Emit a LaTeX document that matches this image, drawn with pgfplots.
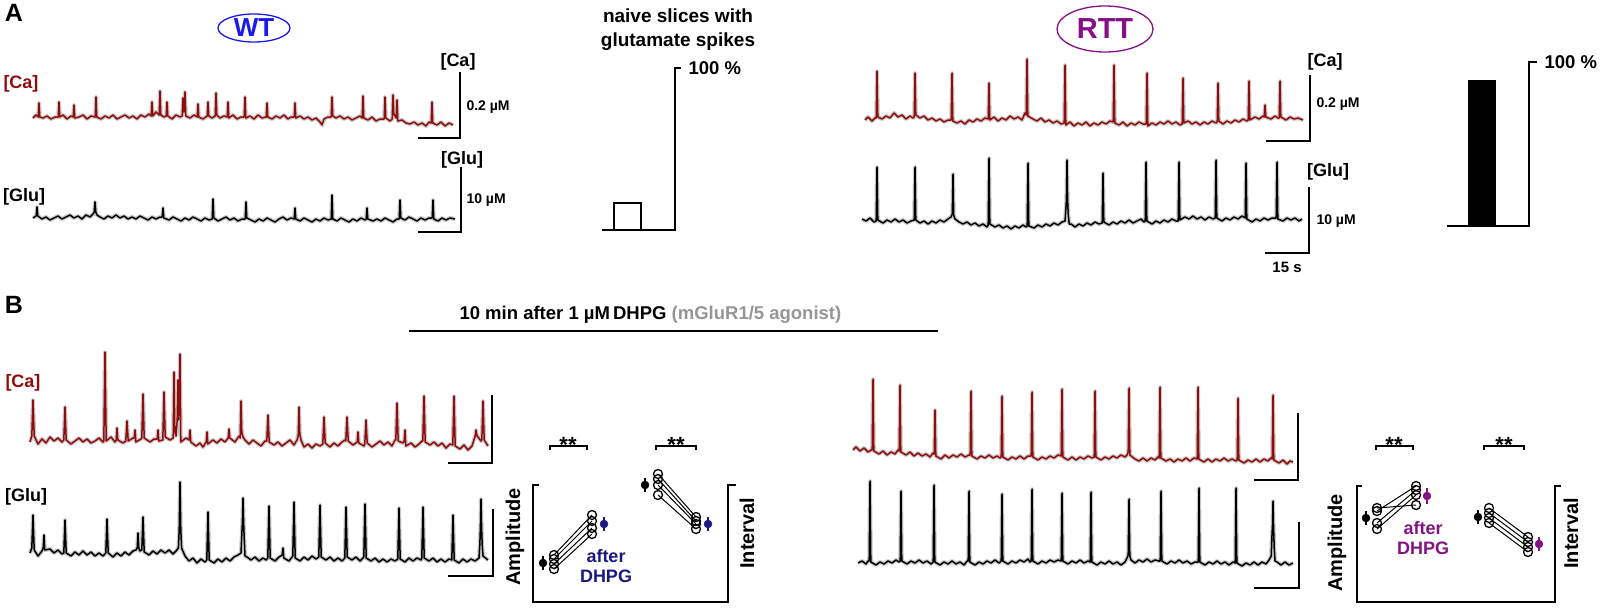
\documentclass[border=0pt]{standalone}
\usepackage{pgfplots}
\pgfplotsset{compat=1.18}
\usepackage{fontspec}
\setmainfont{Liberation Sans}
\usetikzlibrary{shapes.geometric}

\definecolor{carmine}{RGB}{145,12,12}
\definecolor{wtblue}{RGB}{25,25,235}
\definecolor{rttpurple}{RGB}{135,15,135}
\definecolor{navy}{RGB}{25,25,130}
\definecolor{dhpgpurple}{RGB}{130,20,130}
\definecolor{agonist}{RGB}{150,150,150}
\definecolor{shadow}{RGB}{200,200,200}

\newcommand{\fs}[1]{\fontsize{#1}{#1}\selectfont\bfseries}

\pgfplotsset{
  catrace/.style={draw=carmine, line width=1.5pt, line join=round,
    preaction={draw=shadow, line width=4pt, line join=round}},
  glutrace/.style={draw=black, line width=1.5pt, line join=round,
    preaction={draw=shadow, line width=4pt, line join=round}},
  scalebar/.style={draw=black, line width=2.5pt},
  pair/.style={draw=black, line width=1pt},
  opendots/.style={only marks, mark=o, mark size=4.5pt, black, mark options={fill=white, line width=1.3pt}},
}

\begin{document}
\begin{tikzpicture}
\useasboundingbox (0,0) rectangle (1600pt,608pt);
\begin{axis}[at={(0,0)}, anchor=south west,
    width=1600pt, height=608pt, scale only axis,
    xmin=0, xmax=1600, ymin=0, ymax=608, y dir=reverse,
    hide axis, clip=false]

% ---------------- panel A, WT ----------------
\node[font=\fs{25}] at (14,13) {A};
\node[ellipse, draw=wtblue, line width=1.3pt, minimum width=72pt, minimum height=28pt,
      inner sep=0pt, text=wtblue, font=\fs{26}] at (254,28) {WT};
\node[font=\fs{18}, text=carmine] at (21,84) {[Ca]};
\node[font=\fs{18}] at (24,197) {[Glu]};

% [Ca] WT
\addplot[catrace] coordinates {
(33,118)(36,115)(38.2,117)(39,103)(39.8,117)(43,118)(47,116)(51,119)(55,117)(58.2,117)(59,102)(59.8,117)(63,115)(67,119)(71,116)(73.2,117)(74,105)(74.8,118)(79,117)(83,115)(87,119)(91,116)(95.2,117)(96,97)(96.8,117)(101,119)(105,116)(109,118)(113,115)(117,119)(121,117)(125,115)(129,118)(133,116)(137,119)(141,115)(145,117)(149,114)(151.2,116)(152,102)(152.8,116)(156,112)(159.2,115)(160,91)(160.8,115)(164,117)(166.2,116)(167,102)(167.8,116)(172,119)(176,115)(180,117)(182.2,116)(183,98)(183.8,112)(184.4,110)(185,92)(185.8,116)(190,118)(194,115)(197.2,117)(198,104)(198.8,117)(203,119)(207.2,116)(208,102)(208.8,116)(212,118)(215.2,116)(216,93)(216.8,115)(220,118)(224,116)(227.2,117)(228,102)(228.8,118)(233,115)(237,119)(241,117)(244.2,117)(245,97)(245.8,118)(250,116)(254,119)(258,115)(262,118)(266.2,117)(267,103)(267.8,117)(272,119)(276,116)(280,118)(284,115)(288,119)(291,117)(294.2,117)(295,103)(295.8,118)(300,116)(304,119)(308,117)(312,120)(316,118)(320,122)(322,125)(324,119)(328,117)(331.2,117)(332,97)(332.8,116)(336,118)(340,116)(344,119)(348,117)(352,120)(356,118)(360,116)(362.2,118)(363,96)(363.8,118)(368,120)(372,117)(376,121)(380,119)(384.2,119)(385,97)(385.8,118)(390,121)(392.2,119)(393,95)(393.8,114)(396.2,118)(397,100)(397.8,121)(402,120)(406,123)(410,124)(414,122)(418,125)(422,123)(426,126)(429,122)(431.2,123)(432,102)(432.8,123)(437,125)(441,122)(445,126)(449,123)(453,125)
};
% [Glu] WT
\addplot[glutrace] coordinates {
(33,218)(36,216)(36.2,216)(37,207)(37.8,216)(42,219)(46,217)(50,220)(54,218)(58,216)(62,219)(66,217)(70,215)(74,218)(78,216)(82,219)(86,215)(90,217)(93,214)(94.2,212)(95,202)(95.8,212)(97,215)(100,217)(104,219)(108,216)(112,218)(116,215)(120,218)(124,216)(128,219)(132,217)(136,219)(140,216)(144,218)(148,220)(152,217)(156,219)(160,217)(162.2,217)(163,208)(163.8,218)(169,220)(173,217)(177,219)(181,221)(185,218)(189,220)(193,217)(197,219)(201,221)(205,218)(209,220)(212.2,219)(213,199)(213.8,218)(218,221)(222,219)(226,217)(230,220)(234,218)(238,221)(242,219)(245.2,219)(246,202)(246.8,218)(251,220)(255,222)(259,219)(263,221)(267,218)(271,220)(275,222)(279,219)(283,217)(287,220)(291,218)(294.2,219)(295,208)(295.8,219)(300,221)(304,218)(308,220)(312,222)(316,219)(320,221)(324,218)(328,220)(331.2,219)(332,195)(332.8,219)(337,221)(341,218)(345,220)(349,222)(353,219)(357,221)(361,218)(365,220)(366.2,219)(367,208)(367.8,219)(373,221)(377,219)(381,221)(385,218)(389,220)(393,222)(397,219)(399.2,219)(400,200)(400.8,218)(405,220)(409,217)(413,219)(417,221)(421,218)(425,220)(429,218)(432.2,218)(433,200)(433.8,219)(438,221)(442,218)(446,220)(450,218)(455,219)
};
\addplot[scalebar] coordinates {(418,138)(460,138)(460,72)};
\addplot[scalebar] coordinates {(418,232)(461,232)(461,167)};
\node[font=\fs{18}] at (458,62) {[Ca]};
\node[font=\fs{14}, anchor=west] at (463,107) {0.2 µM};
\node[font=\fs{18}] at (462,160) {[Glu]};
\node[font=\fs{14}, anchor=west] at (463,200) {10 µM};

% bar WT
\node[align=center, font=\fontsize{19}{24}\selectfont\bfseries] at (678,30) {naive slices with\\glutamate spikes};
\addplot[fill=white, draw=black, line width=2pt] coordinates {(614,230)(614,203)(641,203)(641,230)(614,230)};
\addplot[scalebar] coordinates {(602,230)(675,230)(675,68)(681,68)};
\node[font=\fs{18.5}, anchor=west] at (685,68) {100 \%};

% ---------------- panel A, RTT ----------------
\node[ellipse, draw=rttpurple, line width=1.3pt, minimum width=96pt, minimum height=46pt,
      inner sep=0pt, text=rttpurple, font=\fs{29}] at (1105,29) {RTT};

% [Ca] RTT
\addplot[catrace] coordinates {
(865,120)(868,117)(872,121)(875,118)(876.2,118)(877,71)(877.8,117)(882,119)(886,116)(890,118)(894,113)(898,117)(902,115)(906,119)(910,116)(913,118)(914.2,117)(915,73)(915.8,115)(920,118)(924,116)(928,120)(932,118)(936,121)(940,119)(944,122)(948,120)(951.2,120)(952,73)(952.8,121)(957,123)(961,121)(965,124)(969,120)(973,122)(977,119)(981,121)(985,118)(988.2,119)(989,83)(989.8,120)(994,117)(998,121)(1002,118)(1006,120)(1010,116)(1014,119)(1018,117)(1022,120)(1025,113)(1026.2,115)(1027,59)(1027.8,116)(1033,119)(1037,121)(1041,118)(1045,122)(1049,120)(1053,123)(1057,121)(1061,124)(1064.2,123)(1065,65)(1065.8,125)(1070,122)(1074,126)(1078,123)(1082,125)(1086,122)(1090,126)(1094,123)(1098,125)(1102,122)(1106,124)(1110,121)(1113.2,122)(1114,65)(1114.8,123)(1119,125)(1123,122)(1127,126)(1131,123)(1135,125)(1139,122)(1143,124)(1146.2,124)(1147,73)(1147.8,126)(1152,123)(1156,125)(1160,122)(1164,124)(1168,121)(1172,124)(1176,122)(1180,125)(1182.2,124)(1183,78)(1183.8,123)(1188,121)(1192,124)(1196,122)(1200,125)(1204,122)(1208,124)(1212,121)(1216,123)(1217.2,122)(1218,83)(1218.8,121)(1223,124)(1227,121)(1231,123)(1235,120)(1239,122)(1243,119)(1247,121)(1248.2,120)(1249,81)(1249.8,120)(1255,117)(1259,119)(1263,116)(1264.2,117)(1265,105)(1265.8,117)(1271,119)(1275,116)(1278,118)(1279.2,118)(1280,81)(1280.8,117)(1286,120)(1290,117)(1294,119)(1298,118)(1303,120)
};
% [Glu] RTT
\addplot[glutrace] coordinates {
(862,219)(866,221)(870,218)(874,222)(876.2,221)(877,167)(877.8,220)(883,223)(887,220)(891,222)(895,219)(899,222)(903,220)(907,223)(911,221)(914.2,220)(915,167)(915.8,220)(920,223)(924,221)(928,224)(932,221)(936,223)(940,220)(944,222)(948,219)(951,217)(952.3,214)(953,174)(953.7,215)(955,219)(959,222)(963,224)(967,222)(971,225)(975,223)(979,226)(983,224)(987,227)(988.2,225)(989,158)(989.8,224)(995,227)(999,225)(1003,228)(1007,226)(1011,229)(1015,226)(1019,228)(1023,225)(1026,227)(1027.2,226)(1028,163)(1028.8,226)(1034,228)(1038,225)(1042,227)(1046,224)(1050,226)(1054,223)(1058,225)(1062,222)(1065,221)(1065.8,210)(1066.4,200)(1067,160)(1067.6,200)(1068.2,214)(1069.2,224)(1071,224)(1075,227)(1079,224)(1083,226)(1087,223)(1091,225)(1095,222)(1099,224)(1102.2,223)(1103,173)(1103.8,222)(1109,225)(1113,222)(1117,224)(1121,221)(1125,223)(1129,220)(1133,223)(1137,221)(1141,219)(1144,222)(1145.2,221)(1146,162)(1146.8,221)(1152,224)(1156,221)(1160,223)(1164,220)(1168,222)(1172,219)(1176,221)(1178.2,221)(1179,162)(1179.8,220)(1185,217)(1189,219)(1193,216)(1197,219)(1201,217)(1205,220)(1209,217)(1213,219)(1215.2,218)(1216,160)(1216.8,218)(1222,221)(1226,218)(1230,220)(1234,217)(1238,219)(1242,216)(1245.2,218)(1246,163)(1246.8,219)(1252,222)(1256,219)(1260,221)(1264,218)(1268,220)(1272,218)(1276.2,218)(1277,162)(1277.8,219)(1283,221)(1287,218)(1291,220)(1295,218)(1299,221)(1302,219)
};
\addplot[scalebar] coordinates {(1266,141)(1310,141)(1310,75)};
\addplot[scalebar] coordinates {(1265,253)(1309,253)(1309,187)};
\node[font=\fs{18}] at (1325,62) {[Ca]};
\node[font=\fs{14}, anchor=west] at (1313,104) {0.2 µM};
\node[font=\fs{18}] at (1328,172) {[Glu]};
\node[font=\fs{14}, anchor=west] at (1313,221) {10 µM};
\node[font=\fs{15}] at (1287,267) {15 s};

% bar RTT
\addplot[fill=black, draw=black, line width=1pt] coordinates {(1468,226)(1468,80)(1495,80)(1495,226)(1468,226)};
\addplot[scalebar] coordinates {(1447,226)(1529,226)(1529,62)(1537,62)};
\node[font=\fs{18.5}, anchor=west] at (1541,62) {100 \%};

% ---------------- panel B ----------------
\node[font=\fs{25}] at (14,305) {B};
\node[font=\fs{18.5}, anchor=west] at (456,315) {10 min after 1 µM\,DHPG \textcolor{agonist}{(mGluR1/5 agonist)}};
\addplot[draw=black, line width=1.8pt] coordinates {(409,331)(938,331)};
\node[font=\fs{18}, text=carmine] at (23,383) {[Ca]};
\node[font=\fs{18}] at (26,497) {[Glu]};

% [Ca] WT + DHPG
\addplot[catrace] coordinates {
(30,442)(31.8,436)(33,400)(34.2,436)(38,444)(42,439)(46,443)(50,437)(54,441)(58,438)(62,442)(63.8,440)(65,407)(66.2,440)(71,444)(75,441)(79,438)(83,442)(87,439)(91,443)(95,441)(99,438)(103,442)(103.8,441)(105,352)(106.2,441)(111,437)(115,442)(116.2,440)(117,428)(117.8,440)(123,443)(125.8,441)(127,421)(128.2,441)(133,438)(134.2,438)(135,430)(135.8,442)(141,439)(141.8,438)(143,394)(144.2,438)(150,442)(154,439)(157.2,439)(158,430)(158.8,441)(162.8,440)(164,392)(165.2,437)(170,440)(173.2,438)(174,372)(174.8,430)(176,436)(177.2,420)(178,380)(178.6,420)(179.3,400)(180,354)(180.8,442)(186,438)(189.2,440)(190,430)(190.8,442)(196,446)(200,443)(203,447)(206.2,442)(207,432)(207.8,444)(213,440)(217,443)(221,439)(225,442)(228.2,438)(229,429)(229.8,438)(235,442)(239,436)(240.2,438)(241,401)(241.8,432)(243,437)(245,440)(249,444)(253,440)(257,443)(261,446)(265,441)(266.8,441)(268,415)(269.2,442)(274,445)(278,442)(282,446)(286,443)(290,440)(294,445)(297,440)(298.2,436)(299,407)(299.8,434)(301,440)(304,447)(308,444)(312,448)(316,444)(320,446)(322.8,444)(324,417)(325.2,443)(330,447)(334,443)(338,446)(342,442)(345,440)(345.8,441)(347,417)(348.2,441)(353,445)(357.2,442)(358,432)(358.8,443)(364,446)(364.8,444)(366,420)(367.2,443)(372,447)(376,444)(380,441)(384,445)(388,442)(392,446)(395,440)(395.8,440)(397,403)(398.2,441)(403,443)(404.2,441)(405,430)(405.8,446)(411,443)(415,447)(419,444)(422,441)(422.8,441)(424,396)(425.2,442)(430,445)(434,442)(438,446)(442,443)(446,448)(450,444)(452.8,445)(454,396)(455.2,446)(460,449)(464,445)(468,450)(472,446)(475.2,436)(476,430)(477,436)(478,437)(481,441)(481.8,440)(483,401)(484.2,440)(488,446)
};
% [Glu] WT + DHPG
\addplot[glutrace] coordinates {
(30,553)(31.8,548)(33,515)(34.2,550)(38,556)(42,551)(43.2,548)(44,535)(44.8,550)(50,549)(54,553)(58,550)(62,554)(63.8,553)(65,520)(66.2,553)(71,556)(75,552)(79,555)(83,551)(87,555)(91,552)(95,556)(99,553)(103,556)(105.8,553)(107,519)(108.2,553)(113,557)(117,553)(121,556)(125,552)(129,555)(133,551)(136,550)(137.2,548)(138,533)(138.8,548)(140,551)(141.8,550)(143,517)(144.2,552)(149,555)(153,551)(157,554)(161,550)(165,553)(169,550)(173,554)(176,551)(178.4,548)(179.2,530)(180,482)(180.8,530)(181.6,548)(185,556)(189,561)(193,558)(197,563)(201,559)(205,562)(206.8,560)(208,512)(209.2,560)(214,563)(218,559)(222,562)(226,558)(230,561)(234,557)(238,555)(241,553)(241.8,535)(242.4,522)(243,498)(243.6,522)(244.2,538)(245,556)(247,557)(251,560)(255,557)(259,561)(263,558)(266,560)(267.8,558)(269,506)(270.2,558)(275,561)(279,557)(282.2,555)(283,548)(283.8,558)(289,561)(292,557)(292.8,556)(294,502)(295.2,558)(300,561)(304,557)(308,560)(312,556)(316,559)(318.8,557)(320,505)(321.2,557)(326,560)(330,557)(334,561)(338,558)(342,561)(344.8,558)(346,507)(347.2,557)(352,560)(356,557)(360,561)(363,558)(363.8,557)(365,504)(366.2,558)(371,561)(375,558)(379,562)(383,559)(387,562)(391,559)(395,561)(397.8,559)(399,508)(400.2,559)(405,562)(409,558)(413,561)(417,558)(421,560)(421.8,558)(423,507)(424.2,558)(429,561)(433,558)(437,562)(441,559)(445,562)(449,559)(451.8,560)(453,515)(454.2,560)(459,563)(463,559)(467,562)(471,559)(475,561)(479,558)(479.8,545)(480.4,528)(481,499)(481.6,528)(482.2,545)(483,556)(488,560)
};
\addplot[scalebar] coordinates {(448,463)(492,463)(492,395)};
\addplot[scalebar] coordinates {(448,576)(493,576)(493,509)};

% WT summary
\addplot[draw=black, line width=1.2pt] coordinates {(550,450)(550,446)(587,446)(587,450)};
\addplot[draw=black, line width=1.2pt] coordinates {(656,450)(656,446)(696,446)(696,450)};
\node[font=\fs{22}, anchor=base] at (568,452) {**};
\node[font=\fs{22}, anchor=base] at (676,452) {**};
\addplot[draw=black, line width=2pt] coordinates {(539,485)(533,485)(533,602)(728,602)(728,485)(736,485)};
\node[font=\fs{20}, rotate=90] at (515,537) {Amplitude};
\node[font=\fs{20}, rotate=90] at (747,533) {Interval};
\addplot[pair] coordinates {(554,555)(592,515)};
\addplot[pair] coordinates {(554,559)(592,521)};
\addplot[pair] coordinates {(554,564)(592,528)};
\addplot[pair] coordinates {(554,569)(592,534)};
\addplot[pair] coordinates {(658,474)(696,517)};
\addplot[pair] coordinates {(658,479)(696,521)};
\addplot[pair] coordinates {(658,485)(696,524)};
\addplot[pair] coordinates {(658,495)(696,529)};
\addplot[opendots] coordinates {(554,555)(554,559)(554,564)(554,569)(592,515)(592,521)(592,528)(592,534)};
\addplot[opendots] coordinates {(658,474)(658,479)(658,485)(658,495)(696,517)(696,521)(696,524)(696,529)};
\addplot[draw=black, line width=1.5pt] coordinates {(543,556)(543,570)};
\addplot[draw=black, line width=1.5pt] coordinates {(645,478)(645,492)};
\addplot[only marks, mark=*, mark size=4pt, black] coordinates {(543,563)(645,485)};
\addplot[draw=navy, line width=1.5pt] coordinates {(604,517)(604,531)};
\addplot[draw=navy, line width=1.5pt] coordinates {(708,517)(708,531)};
\addplot[only marks, mark=*, mark size=4pt, navy] coordinates {(604,524)(708,524)};
\node[align=center, font=\fontsize{18}{20}\selectfont\bfseries, text=navy] at (606,566) {after\\DHPG};

% [Ca] RTT + DHPG
\addplot[catrace] coordinates {
(853,450)(856,447)(860,451)(864,448)(868,452)(871,450)(872.2,450)(873,379)(873.8,451)(879,454)(883,451)(887,455)(891,452)(895,454)(898,450)(899.2,451)(900,385)(900.8,452)(906,455)(910,452)(914,456)(918,453)(922,456)(926,454)(930,457)(933,453)(934.2,454)(935,410)(935.8,456)(941,459)(945,455)(949,458)(953,455)(957,457)(961,454)(965,457)(969,455)(970.2,455)(971,391)(971.8,456)(977,459)(981,456)(985,458)(989,455)(993,458)(997,456)(1000,458)(1001.2,457)(1002,396)(1002.8,457)(1008,460)(1012,457)(1016,459)(1020,456)(1024,459)(1028,456)(1031.2,456)(1032,392)(1032.8,457)(1038,460)(1042,457)(1046,459)(1050,456)(1054,458)(1058,455)(1061.2,456)(1062,389)(1062.8,457)(1068,460)(1072,457)(1076,460)(1080,457)(1084,459)(1088,456)(1092,458)(1094.2,457)(1095,391)(1095.8,457)(1101,460)(1105,457)(1109,459)(1113,456)(1117,458)(1121,455)(1125,457)(1127,455)(1128.2,452)(1129,388)(1129.8,455)(1135,459)(1139,461)(1143,458)(1147,461)(1151,458)(1155,460)(1158,457)(1159.2,458)(1160,387)(1160.8,458)(1166,461)(1170,459)(1174,462)(1178,459)(1182,461)(1186,458)(1190,461)(1194,458)(1197.2,459)(1198,387)(1198.8,459)(1204,462)(1208,459)(1212,462)(1216,459)(1220,461)(1224,458)(1228,461)(1232,459)(1236,461)(1237.2,460)(1238,398)(1238.8,460)(1244,463)(1248,460)(1252,462)(1256,459)(1260,462)(1264,459)(1268,461)(1271,458)(1272.2,459)(1273,395)(1273.8,460)(1279,463)(1283,460)(1287,464)(1290,461)(1293,462)
};
% [Glu] RTT + DHPG
\addplot[glutrace] coordinates {
(858,563)(862,561)(866,564)(868,561)(869.2,561)(870,481)(870.8,562)(876,565)(880,562)(884,564)(888,561)(892,563)(896,560)(899,562)(900.2,561)(901,491)(901.8,561)(907,564)(911,561)(915,563)(919,560)(923,563)(927,561)(931,564)(933.2,562)(934,485)(934.8,562)(940,565)(944,562)(948,564)(952,561)(956,564)(960,562)(964,565)(967,561)(968.2,561)(969,491)(969.8,562)(975,565)(979,562)(983,564)(987,561)(991,563)(995,560)(999,563)(1001.2,561)(1002,494)(1002.8,561)(1008,564)(1012,561)(1016,563)(1020,560)(1024,562)(1028,559)(1030,562)(1031.2,561)(1032,489)(1032.8,561)(1038,564)(1042,561)(1046,563)(1050,560)(1054,562)(1058,560)(1061.2,561)(1062,493)(1062.8,561)(1068,564)(1072,561)(1076,563)(1080,560)(1084,563)(1088,561)(1090.2,562)(1091,492)(1091.8,562)(1097,565)(1101,562)(1105,564)(1109,561)(1113,564)(1117,562)(1121,565)(1125,562)(1127,558)(1128.2,555)(1129,499)(1129.8,556)(1131,560)(1135,563)(1139,560)(1143,562)(1147,559)(1151,562)(1155,560)(1159,561)(1160.2,561)(1161,491)(1161.8,561)(1167,564)(1171,561)(1175,563)(1179,560)(1183,563)(1187,561)(1191,564)(1195,562)(1198.2,562)(1199,488)(1199.8,562)(1205,565)(1209,562)(1213,564)(1217,561)(1221,564)(1225,562)(1229,565)(1233,562)(1235.2,563)(1236,488)(1236.8,563)(1242,566)(1246,563)(1250,565)(1254,562)(1258,565)(1262,562)(1266,564)(1269,560)(1271.2,556)(1272,535)(1272.5,525)(1273,501)(1273.5,525)(1274.2,548)(1275,561)(1277,562)(1281,565)(1285,562)(1289,565)(1293,563)
};
\addplot[scalebar] coordinates {(1254,480)(1298,480)(1298,413)};
\addplot[scalebar] coordinates {(1254,588)(1299,588)(1299,522)};

% RTT summary
\addplot[draw=black, line width=1.2pt] coordinates {(1376,450)(1376,446)(1413,446)(1413,450)};
\addplot[draw=black, line width=1.2pt] coordinates {(1484,450)(1484,446)(1524,446)(1524,450)};
\node[font=\fs{22}, anchor=base] at (1394,452) {**};
\node[font=\fs{22}, anchor=base] at (1504,452) {**};
\addplot[draw=black, line width=2pt] coordinates {(1362,486)(1357,486)(1357,602)(1555,602)(1555,486)(1561,486)};
\node[font=\fs{20}, rotate=90] at (1337,543) {Amplitude};
\node[font=\fs{20}, rotate=90] at (1571,533) {Interval};
\addplot[pair] coordinates {(1377,508)(1416,505)};
\addplot[pair] coordinates {(1377,511)(1416,486)};
\addplot[pair] coordinates {(1377,523)(1416,490)};
\addplot[pair] coordinates {(1377,529)(1416,495)};
\addplot[pair] coordinates {(1489,508)(1528,537)};
\addplot[pair] coordinates {(1489,513)(1528,542)};
\addplot[pair] coordinates {(1489,518)(1528,547)};
\addplot[pair] coordinates {(1489,523)(1528,552)};
\addplot[opendots] coordinates {(1377,508)(1377,511)(1377,523)(1377,529)(1416,486)(1416,490)(1416,495)(1416,505)};
\addplot[opendots] coordinates {(1489,508)(1489,513)(1489,518)(1489,523)(1528,537)(1528,542)(1528,547)(1528,552)};
\addplot[draw=black, line width=1.5pt] coordinates {(1366,511)(1366,525)};
\addplot[draw=black, line width=1.5pt] coordinates {(1478,510)(1478,524)};
\addplot[only marks, mark=*, mark size=4pt, black] coordinates {(1366,518)(1478,517)};
\addplot[draw=dhpgpurple, line width=1.5pt] coordinates {(1427,488)(1427,504)};
\addplot[draw=dhpgpurple, line width=1.5pt] coordinates {(1539,537)(1539,551)};
\addplot[only marks, mark=*, mark size=4pt, dhpgpurple] coordinates {(1427,496)(1539,544)};
\node[align=center, font=\fontsize{18}{20}\selectfont\bfseries, text=dhpgpurple] at (1423,538) {after\\DHPG};

\end{axis}
\end{tikzpicture}
\end{document}
